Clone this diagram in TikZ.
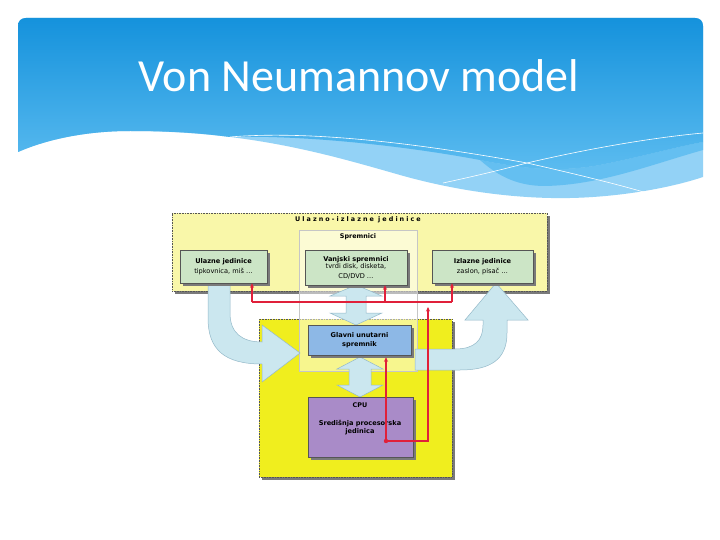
\documentclass[tikz,border=0pt]{standalone}
\usepackage{fontspec}
\setmainfont{DejaVu Sans}
\newfontfamily\titlefont{Carlito}
\usetikzlibrary{arrows.meta,shadows}
\definecolor{hdrtop}{HTML}{1592DC}
\definecolor{hdrbot}{HTML}{5CBCF0}
\definecolor{hdrband}{HTML}{93D2F6}
\definecolor{paleyellow}{HTML}{F9F7A9}
\definecolor{brightyellow}{HTML}{F0EE1E}
\definecolor{greenfill}{HTML}{CCE5C6}
\definecolor{bluefill}{HTML}{8DB8E6}
\definecolor{purplefill}{HTML}{A98BC8}
\definecolor{shadowgray}{HTML}{7A7A7A}
\definecolor{arrowfill}{HTML}{CBE7EF}
\definecolor{arrowedge}{HTML}{94B9C9}
\definecolor{redline}{HTML}{E0203A}
\definecolor{boxedge}{HTML}{555555}
\tikzset{
  shadowed/.style={drop shadow={shadow xshift=3pt,shadow yshift=-3pt,fill=shadowgray,opacity=1}},
  groupbox/.style={draw=boxedge, densely dotted, line width=0.6pt, shadowed},
  unitbox/.style={draw=boxedge, line width=0.5pt, shadowed, align=center, inner sep=1pt,
    font=\fontsize{6.6}{8.6}\selectfont},
  bigarrow/.style={fill=arrowfill, draw=arrowedge, line width=0.5pt},
  redarrow/.style={draw=redline, line width=1.3pt, -{Stealth[length=4.5pt,width=4pt]}},
  redplain/.style={draw=redline, line width=1.3pt},
  smalltext/.style={font=\fontsize{6.4}{8}\selectfont\bfseries}
}
\begin{document}
\begin{tikzpicture}[x=1pt,y=-1pt]
\useasboundingbox (0,0) rectangle (720,540);
\fill[white] (0,0) rectangle (720,540);
% header: light band down to the white wave
\fill[hdrband] (18,152) -- (18,26) .. controls (18,21) and (21,18) .. (26,18) -- (695,18)
  .. controls (700,18) and (703,21) .. (703,26) -- (703,177)
  .. controls (670,188) and (620,197) .. (570,198)
  .. controls (520,199) and (460,192) .. (400,175)
  .. controls (330,155) and (250,131) .. (130,131)
  .. controls (90,131) and (50,138) .. (18,152) -- cycle;
% mid band
\fill[hdrbot!85!hdrband] (480,160) .. controls (530,170) and (560,172) .. (600,165)
  .. controls (640,157) and (680,146) .. (703,142) -- (703,150)
  .. controls (650,165) and (600,185) .. (545,186) .. controls (520,186) and (500,178) .. (480,160) -- cycle;
% main gradient
\shade[top color=hdrtop, bottom color=hdrbot] (18,152) -- (18,26) .. controls (18,21) and (21,18) .. (26,18) -- (695,18)
  .. controls (700,18) and (703,21) .. (703,26) -- (703,142)
  .. controls (680,146) and (640,157) .. (600,165)
  .. controls (560,172) and (530,170) .. (480,160)
  .. controls (400,145) and (300,135) .. (230,137)
  .. controls (200,133) and (170,131) .. (130,131)
  .. controls (90,131) and (50,138) .. (18,152) -- cycle;
% white lines in the wave
\draw[white, line width=0.6pt] (230,137) .. controls (300,131) and (400,140) .. (527,163)
  .. controls (580,175) and (620,185) .. (647,193);
\draw[white, line width=0.6pt] (443,183) .. controls (480,175) and (500,170) .. (527,163)
  .. controls (600,146) and (660,137) .. (703,133);
% title
\node[text=white, font=\titlefont\fontsize{46}{52}\selectfont, anchor=base] (title) at (359,92) {Von Neumannov model};

% group boxes
\node[groupbox, fill=paleyellow, minimum width=375, minimum height=78] (io) at (359.5,252) {};
\node[groupbox, fill=brightyellow, minimum width=193, minimum height=158] (low) at (355.5,398) {};
\node[smalltext, anchor=base] (iotitle) at (358,222) {\addfontfeature{LetterSpace=32}Ulazno-izlazne jedinice};
% Spremnici translucent box
\node[draw=gray!45, line width=0.4pt, fill=white, fill opacity=0.5, minimum width=118, minimum height=141] (sp) at (358,300.5) {};
\node[smalltext, anchor=base] (sptitle) at (358,239) {Spremnici};

% big light blue arrows
\path[bigarrow] (208,283) -- (208,318) .. controls (208,350) and (225,364) .. (262,364)
  -- (262,382) -- (300,353) -- (262,325) -- (262,342)
  .. controls (242,342) and (230,333) .. (230,313) -- (230,283) -- cycle;
\path[bigarrow] (415,349) -- (455,349) .. controls (475,349) and (483,340) .. (483,325)
  -- (483,320) -- (465,320) -- (496,283) -- (528,320) -- (507,320) -- (507,333)
  .. controls (507,360) and (490,370) .. (460,370) -- (415,370) -- cycle;
\path[bigarrow] (356,285) -- (382,296) -- (366,296) -- (366,313) -- (382,313) -- (356,325)
  -- (330,313) -- (346,313) -- (346,296) -- (330,296) -- cycle;
\path[bigarrow] (360,357) -- (383,369) -- (371,369) -- (371,385) -- (383,385) -- (360,397)
  -- (337,385) -- (349,385) -- (349,369) -- (337,369) -- cycle;

% units
\node[unitbox, fill=greenfill, minimum width=87, minimum height=33] (ul) at (223.5,266.5)
  {\textbf{Ulazne jedinice}\\[1pt]tipkovnica, miš \dots};
\node[unitbox, fill=greenfill, minimum width=102, minimum height=35] (vs) at (356,267.5)
  {\textbf{Vanjski spremnici}\\[-1.5pt]tvrdi disk, disketa,\\[1pt]CD/DVD \dots};
\node[unitbox, fill=greenfill, minimum width=101, minimum height=33] (iz) at (482.5,266.5)
  {\textbf{Izlazne jedinice}\\[1pt]zaslon, pisač \dots};
\node[unitbox, fill=bluefill, minimum width=103, minimum height=30] (gl) at (359.5,340)
  {\textbf{Glavni unutarni}\\\textbf{spremnik}};
\node[unitbox, fill=purplefill, minimum width=105, minimum height=60, anchor=north] (cpu) at (360.5,397)
  {};
\node[smalltext, anchor=base] (cputitle) at (360,407) {CPU};
\node[align=center, anchor=base, font=\fontsize{6.6}{8}\selectfont\bfseries] (cputext) at (360,433)
  {Središnja procesorska\\jedinica};

% red control lines
\coordinate (j1) at (252,302);
\coordinate (j2) at (385,302);
\coordinate (j3) at (452,302);
\coordinate (dot) at (386,441);
\coordinate (corner) at (428,441);
\coordinate (up) at (428,307);
\draw[redplain] (j1) -- (j3);
\draw[redarrow] (j1) -- (j1 |- ul.south);
\draw[redarrow] (j2) -- (j2 |- vs.south);
\draw[redarrow] (j3) -- (j3 |- iz.south);
\draw[redarrow] (dot) -- (corner) -- (up);
\draw[redarrow] (dot) -- ([yshift=-2pt]dot |- gl.south);
\fill[redline] (dot) circle (2.2);
\end{tikzpicture}
\end{document}
